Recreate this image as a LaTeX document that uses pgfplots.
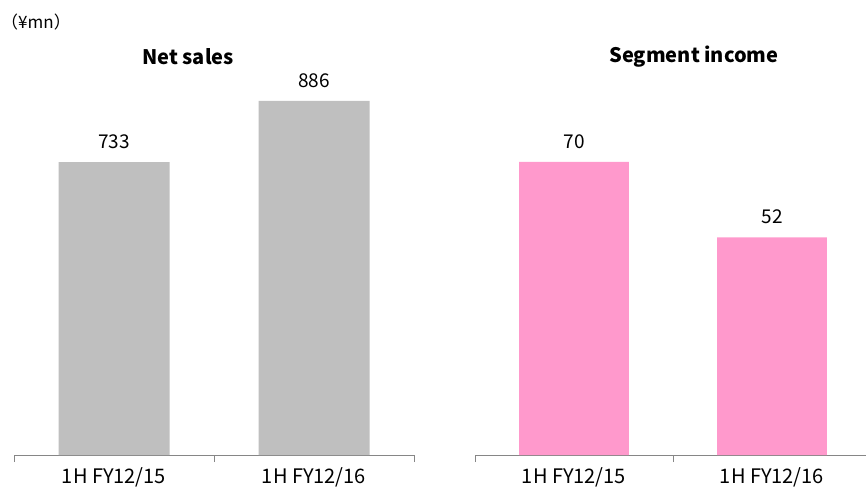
\documentclass[border=0pt]{standalone}
\usepackage{pgfplots}
\pgfplotsset{compat=1.18}
\usepackage{fontspec}
\setmainfont{Noto Sans CJK JP}
\definecolor{bargray}{RGB}{191,191,191}
\definecolor{barpink}{RGB}{255,153,204}
\definecolor{axgray}{RGB}{134,134,134}
\pgfplotsset{
  panel/.style={
    scale only axis, width=#1, height=400pt,
    anchor=south west,
    axis x line=bottom, axis line style={axgray, line width=1pt, -},
    hide y axis,
    xmin=-0.5, xmax=1.5, ymin=0,
    xtick={0,1}, xticklabels={1H FY12/15, 1H FY12/16},
    major tick length=0pt,
    minor xtick={-0.5,0.5,1.5}, minor tick length=7pt,
    xtick align=outside,
    every tick/.style={axgray, line width=1pt},
    xticklabel style={font=\fontsize{20}{23}\selectfont, yshift=-9pt},
    ybar, bar width=#1*0.2775,
    nodes near coords,
    every node near coord/.append style={font=\fontsize{19}{22}\selectfont, anchor=south, yshift=10pt},
    /pgf/number format/assume math mode=true,
    clip=false,
  }
}
\begin{document}
\begin{tikzpicture}[x=1pt,y=1pt]
\useasboundingbox (0,0) rectangle (866,487);
\begin{axis}[panel=400pt, at={(14pt,32pt)}, ymax=1000.75]
\addplot[fill=bargray, draw=none] coordinates {(0,733) (1,886)};
\end{axis}
\begin{axis}[panel=396pt, at={(475pt,32pt)}, ymax=95.56]
\addplot[fill=barpink, draw=none] coordinates {(0,70) (1,52)};
\end{axis}
\node[font=\bfseries\fontsize{20}{24}\selectfont] at (188,430) {Net sales};
\node[font=\bfseries\fontsize{20}{24}\selectfont] at (694,430) {Segment income};
\node[font=\fontsize{17}{20}\selectfont] at (36,465) {（¥mn）};
\end{tikzpicture}
\end{document}
